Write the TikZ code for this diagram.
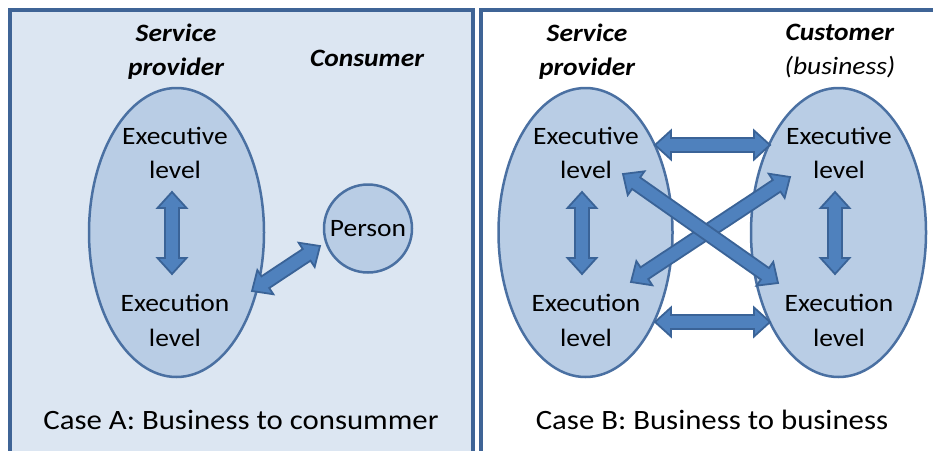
\documentclass[tikz,border=0pt]{standalone}
\usepackage{fontspec}
\setmainfont{Carlito}[FakeStretch=1.1]
\usetikzlibrary{shapes.geometric,calc}

\definecolor{frameblue}{HTML}{3F6496}
\definecolor{panelfill}{HTML}{DCE6F2}
\definecolor{ellfill}{HTML}{B9CDE5}
\definecolor{ellline}{HTML}{4A70A2}
\definecolor{arrowfill}{HTML}{4F81BD}
\definecolor{arrowline}{HTML}{3A6397}

\tikzset{
  panel/.style={draw=frameblue,line width=4pt},
  unit/.style={ellipse,draw=ellline,fill=ellfill,line width=2.5pt,inner sep=0pt},
  lbl/.style={font=\fontsize{25}{34.5}\selectfont,align=center,inner sep=0pt},
  head/.style={font=\fontsize{25}{34}\selectfont\bfseries\itshape,align=center,inner sep=0pt},
  caption/.style={font=\fontsize{28}{34}\selectfont,inner sep=0pt,anchor=base},
  blockarrow/.style={fill=arrowfill,draw=arrowline,line width=1.8pt,line join=miter},
}

% block double arrow between two named coordinates
\newcommand\dblarrow[2]{%
  \draw[blockarrow] (#1)
    -- ($($(#1)!16pt!(#2)$)!14.5pt!90:(#2)$)
    -- ($($(#1)!16pt!(#2)$)!7pt!90:(#2)$)
    -- ($($(#2)!16pt!(#1)$)!7pt!-90:(#1)$)
    -- ($($(#2)!16pt!(#1)$)!14.5pt!-90:(#1)$)
    -- (#2)
    -- ($($(#2)!16pt!(#1)$)!14.5pt!90:(#1)$)
    -- ($($(#2)!16pt!(#1)$)!7pt!90:(#1)$)
    -- ($($(#1)!16pt!(#2)$)!7pt!-90:(#2)$)
    -- ($($(#1)!16pt!(#2)$)!14.5pt!-90:(#2)$)
    -- cycle;}

\begin{document}
\begin{tikzpicture}[x=1pt,y=-1pt]
\useasboundingbox (0,0) rectangle (933,450);
\clip (0,0) rectangle (933,450);

% the two panels
\draw[panel,fill=panelfill] (10,10) rectangle (473,480);
\draw[panel,fill=white] (481,10) rectangle (960,480);

% ---- Case A ----
\node[head] (a-prov-t) at (176,51.5) {Service\\provider};
\node[head,anchor=base] (a-cons-t) at (367,66.5) {Consumer};
\node[unit,minimum width=175pt,minimum height=289pt] (a-prov) at (176.5,232.5) {};
\node[unit,circle,minimum size=88pt,font=\fontsize{25}{30}\selectfont] (a-person) at (368,228.5) {Person};
\node[lbl] (a-exec) at (175,153) {Executive\\level};
\node[lbl] (a-execn) at (175,320.5) {Execution\\level};

\coordinate (a-v1) at (172,192);
\coordinate (a-v2) at (172,274);
\coordinate (a-p1) at (252,291);
\coordinate (a-p2) at (320,246);
\dblarrow{a-v1}{a-v2}
\dblarrow{a-p1}{a-p2}

\node[caption] (a-cap) at (241,429) {Case A: Business to consummer};

% ---- Case B ----
\node[head] (b-prov-t) at (587,51.5) {Service\\provider};
\node[font=\fontsize{25}{34}\selectfont,align=center,inner sep=0pt] (b-cust-t) at (840,51.5)
  {\textbf{\textit{Customer}}\\\textit{(business)}};
\node[unit,minimum width=174pt,minimum height=289pt] (b-prov) at (585.5,232.5) {};
\node[unit,minimum width=175pt,minimum height=289pt] (b-cust) at (838.5,232.5) {};
\node[lbl] (b-exec1) at (586,153) {Executive\\level};
\node[lbl] (b-execn1) at (586,320.5) {Execution\\level};
\node[lbl] (b-exec2) at (839,153) {Executive\\level};
\node[lbl] (b-execn2) at (839,320.5) {Execution\\level};

\coordinate (b-l1) at (582,192);
\coordinate (b-l2) at (582,274);
\coordinate (b-r1) at (835,192);
\coordinate (b-r2) at (835,274);
\coordinate (b-t1) at (655,145);
\coordinate (b-t2) at (770,145);
\coordinate (b-b1) at (655,322);
\coordinate (b-b2) at (770,322);
\coordinate (b-d1) at (631,282);
\coordinate (b-d2) at (790,177);
\coordinate (b-e1) at (623,174);
\coordinate (b-e2) at (778,283);
\dblarrow{b-l1}{b-l2}
\dblarrow{b-r1}{b-r2}
\dblarrow{b-t1}{b-t2}
\dblarrow{b-b1}{b-b2}
\dblarrow{b-d1}{b-d2}
\dblarrow{b-e1}{b-e2}

\node[caption] (b-cap) at (712,429) {Case B: Business to business};
\end{tikzpicture}
\end{document}
